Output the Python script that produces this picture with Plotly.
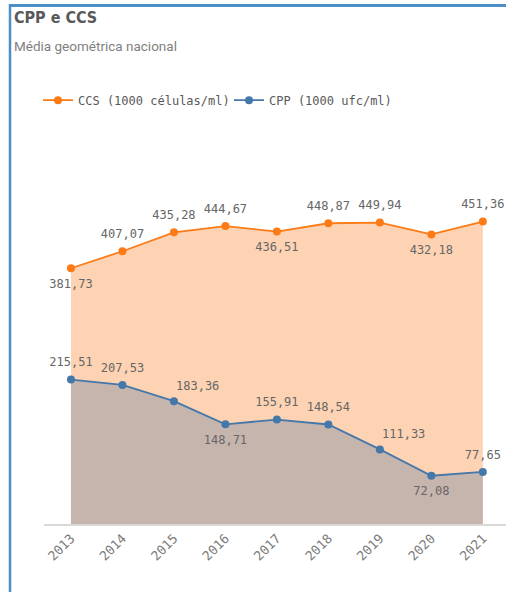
import plotly.graph_objects as go

years = [2013, 2014, 2015, 2016, 2017, 2018, 2019, 2020, 2021]
ccs = [381.73, 407.07, 435.28, 444.67, 436.51, 448.87, 449.94, 432.18, 451.36]
cpp = [215.51, 207.53, 183.36, 148.71, 155.91, 148.54, 111.33, 72.08, 77.65]
ccs_pos = ["bottom center", "top center", "top center", "top center", "bottom center",
           "top center", "top center", "bottom center", "top center"]
cpp_pos = ["top center", "top center", "shifted", "bottom center", "top center",
           "top center", "shifted", "bottom center", "top center"]

def fmt(v):
    return f"{v:.2f}".replace(".", ",")

ORANGE = "#fc7b16"
BLUE = "#4477aa"
MONO = "DejaVu Sans Mono"
GREY = "#595959"
LABEL = "#666666"

# body margin is removed in the page (post_script), so figure px == window px
W, H = 506, 592
L = 44
T = 189.2
B = H - 523.7
R_ = 0
pw, ph = W - L - R_, H - T - B
def px(x): return (x - L) / pw
def py(y): return (H - B - y) / ph

fig = go.Figure()
# fills
fig.add_trace(go.Scatter(x=years, y=ccs, mode="none", fill="tozeroy",
                         fillcolor="#fdd3b3", showlegend=False, hoverinfo="skip"))
fig.add_trace(go.Scatter(x=years, y=cpp, mode="none", fill="tozeroy",
                         fillcolor="#c6b5ad", showlegend=False, hoverinfo="skip"))
# lines
fig.add_trace(go.Scatter(
    x=years, y=ccs, name="CCS (1000 células/ml)", mode="lines+markers",
    line=dict(color=ORANGE, width=1.8), marker=dict(size=8, color=ORANGE),
))
fig.add_trace(go.Scatter(
    x=years, y=cpp, name="CPP (1000 ufc/ml)", mode="lines+markers",
    line=dict(color=BLUE, width=1.8), marker=dict(size=8, color=BLUE),
))
# data labels
annotations = []
for vals, pos in ((ccs, ccs_pos), (cpp, cpp_pos)):
    texts = [("" if p == "shifted" else fmt(v)) for v, p in zip(vals, pos)]
    tp = [("top center" if p == "shifted" else p) for p in pos]
    fig.add_trace(go.Scatter(
        x=years, y=vals, mode="markers+text", showlegend=False, hoverinfo="skip",
        marker=dict(size=15, color="rgba(0,0,0,0)"),
        text=texts, textposition=tp,
        textfont=dict(family=MONO, size=12, color=LABEL), cliponaxis=False,
    ))
    for xv, v, p in zip(years, vals, pos):
        if p == "shifted":
            annotations.append(dict(x=xv, y=v, xref="x", yref="y", text=fmt(v),
                                    showarrow=False, xshift=24, yshift=15,
                                    font=dict(family=MONO, size=12, color=LABEL)))

annotations += [
    dict(text="<b>CPP e CCS</b>", xref="paper", yref="paper", x=px(12), y=py(18),
         xanchor="left", yanchor="middle", showarrow=False,
         font=dict(family="Liberation Sans Narrow, DejaVu Sans Condensed, Roboto", size=16, color=GREY)),
    dict(text="Média geométrica nacional", xref="paper", yref="paper", x=px(12), y=py(46),
         xanchor="left", yanchor="middle", showarrow=False,
         font=dict(family="Roboto", size=13.5, color="#7f7f7f")),
]

fig.update_layout(
    width=W, height=H,
    margin=dict(l=L, r=R_, t=T, b=B, autoexpand=False),
    paper_bgcolor="white", plot_bgcolor="white",
    showlegend=True,
    legend=dict(orientation="h", x=px(38), y=py(86), xanchor="left", yanchor="top",
                font=dict(family=MONO, size=12, color=GREY), itemwidth=30,
                entrywidth=146, entrywidthmode="pixels",
                bgcolor="rgba(0,0,0,0)", tracegroupgap=0),
    xaxis=dict(range=[2012.476, 2021.45], tickvals=years, ticktext=[str(y) for y in years],
               tickangle=-45, showgrid=False, zeroline=False, showline=True,
               linecolor="#d9d9d9", linewidth=1.5, ticks="",
               tickfont=dict(family=MONO, size=13, color="#7a7a7a")),
    yaxis=dict(range=[0, 500], visible=False, showgrid=False, zeroline=False),
    annotations=annotations,
    shapes=[
        dict(type="line", xref="paper", yref="paper", x0=px(10), x1=px(10), y0=py(4.5), y1=py(600),
             line=dict(color="#4a8fc7", width=2.5)),
        dict(type="line", xref="paper", yref="paper", x0=px(9), x1=px(520), y0=py(6), y1=py(6),
             line=dict(color="#4a8fc7", width=3)),
    ],
)
fig.write_html(
    "out.html",
    config={"displayModeBar": False},
    post_script="document.body.style.margin='0px';document.body.style.overflow='hidden';",
)
